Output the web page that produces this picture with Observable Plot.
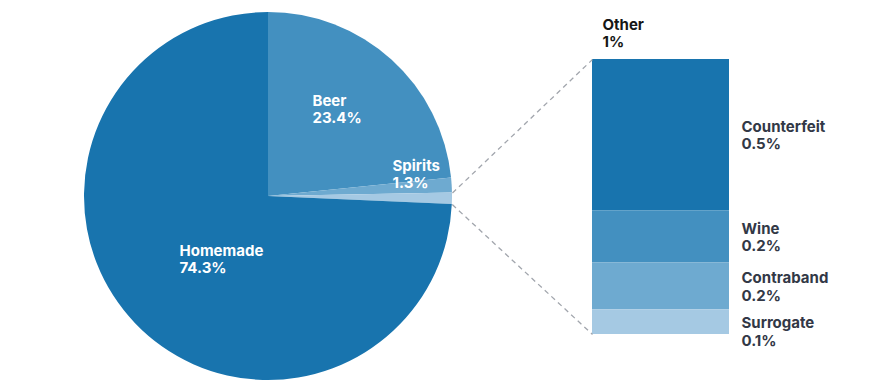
<!DOCTYPE html>
<html>
<head>
<meta charset="utf-8">
<script src="https://cdn.jsdelivr.net/npm/d3@7"></script>
<script src="https://cdn.jsdelivr.net/npm/@observablehq/plot@0.6"></script>
<style>
  html, body { margin: 0; padding: 0; background: #ffffff; }
  #chart { width: 886px; height: 390px; }
</style>
</head>
<body>
<div id="chart"></div>
<script>
// ---------- data ----------
const pieCategories = ["Beer", "Spirits", "Other", "Homemade"];
const pieValues = [23.4, 1.3, 1.0, 74.3];
const pieLabels = ["23.4%", "1.3%", "1%", "74.3%"];

const otherCategories = ["Counterfeit", "Wine", "Contraband", "Surrogate"];
const otherValues = [0.55, 0.19, 0.17, 0.09];          // shares
const otherLabels = ["0.5%", "0.2%", "0.2%", "0.1%"];   // printed labels

// ---------- styling / layout ----------
const colorDomain = ["Homemade", "Beer", "Spirits", "Other", "Counterfeit", "Wine", "Contraband", "Surrogate"];
const colorRange  = ["#1874ae", "#4390c0", "#6eaad0", "#a5c9e3", "#1874ae", "#4390c0", "#6eaad0", "#a5c9e3"];

const W = 886, H = 390;
const CX = 268, CY = 196, R = 184;                 // pie centre & radius (px)
const BAR = {left: 592, right: 729, top: 59, bottom: 334}; // px
const LABEL_GAP = 45;                              // min px between stacked bar labels
const u = px => px / R;                            // px -> radius units
// pie label anchors (px offset from pie centre, top-left of the text block)
const pieLabelAnchor = {
  Beer: [44, -103], Spirits: [124, -38], Homemade: [-89, 47]
};

// ---------- derived tables ----------
const pieData = pieCategories.map((name, i) => ({name, value: pieValues[i], label: pieLabels[i]}));
const arcs = d3.pie().sort(null).value(d => d.value)(pieData);

const otherTotal = d3.sum(otherValues);
const barTopU = u(CY - BAR.top), barBotU = u(CY - BAR.bottom);
const barX1 = u(BAR.left - CX), barX2 = u(BAR.right - CX);
const k = (barTopU - barBotU) / otherTotal;
let acc = 0, prevLabel = Infinity;
const barData = otherCategories.map((name, i) => {
  const y2 = barTopU - acc * k;
  acc += otherValues[i];
  const y1 = barTopU - acc * k;
  let ly = (y1 + y2) / 2;
  if (prevLabel - ly < u(LABEL_GAP)) ly = prevLabel - u(LABEL_GAP);
  prevLabel = ly;
  return {name, value: otherValues[i], label: otherLabels[i], y1, y2, ly};
});

const otherArc = arcs.find(a => a.data.name === "Other");
const connectors = [
  {x1: Math.sin(otherArc.startAngle), y1: Math.cos(otherArc.startAngle), x2: barX1, y2: barTopU},
  {x1: Math.sin(otherArc.endAngle),   y1: Math.cos(otherArc.endAngle),   x2: barX1, y2: barBotU}
];

const pieText = pieData.filter(d => pieLabelAnchor[d.name]).map(d => ({
  text: d.name + "\n" + d.label,
  x: u(pieLabelAnchor[d.name][0]),
  y: -u(pieLabelAnchor[d.name][1])
}));
const otherSlice = pieData.find(d => d.name === "Other");

// custom pie mark using Plot's scales
function pieMark(index, scales) {
  const cx = scales.x(0), cy = scales.y(0), r = scales.x(1) - scales.x(0);
  const g = d3.create("svg:g").attr("transform", `translate(${cx},${cy})`);
  g.selectAll("path").data(arcs).join("path")
    .attr("d", d3.arc().innerRadius(0).outerRadius(r))
    .attr("fill", d => scales.color(d.data.name));
  return g.node();
}

const font = {fontFamily: "Inter, 'Open Sans', sans-serif", fontSize: 15, fontWeight: 700, lineHeight: 1.15};

const chart = Plot.plot({
  width: W, height: H,
  margin: 0,
  style: {fontFamily: "Inter, sans-serif", background: "#ffffff", overflow: "visible"},
  x: {type: "linear", domain: [u(-CX), u(W - CX)], range: [0, W], axis: null},
  y: {type: "linear", domain: [u(CY - H), u(CY)], range: [H, 0], axis: null},
  color: {type: "ordinal", domain: colorDomain, range: colorRange},
  marks: [
    pieMark,
    Plot.rect(barData, {x1: barX1, x2: barX2, y1: "y1", y2: "y2", fill: "name"}),
    Plot.link(connectors, {x1: "x1", y1: "y1", x2: "x2", y2: "y2",
      stroke: "#a2a6ad", strokeWidth: 1.3, strokeDasharray: "5,4"}),
    Plot.text(pieText, {x: "x", y: "y", text: "text", textAnchor: "start", lineAnchor: "top",
      fill: "#ffffff", ...font}),
    Plot.text([otherSlice], {x: barX1, y: barTopU, text: d => d.name + "\n" + d.label,
      textAnchor: "start", lineAnchor: "top", dx: 10, dy: -42, fill: "#161616", ...font}),
    Plot.text(barData, {x: barX2, y: "ly", text: d => d.name + "\n" + d.label,
      textAnchor: "start", lineAnchor: "middle", dx: 12, fill: "#323846", ...font})
  ]
});
document.getElementById("chart").appendChild(chart);
</script>
</body>
</html>
